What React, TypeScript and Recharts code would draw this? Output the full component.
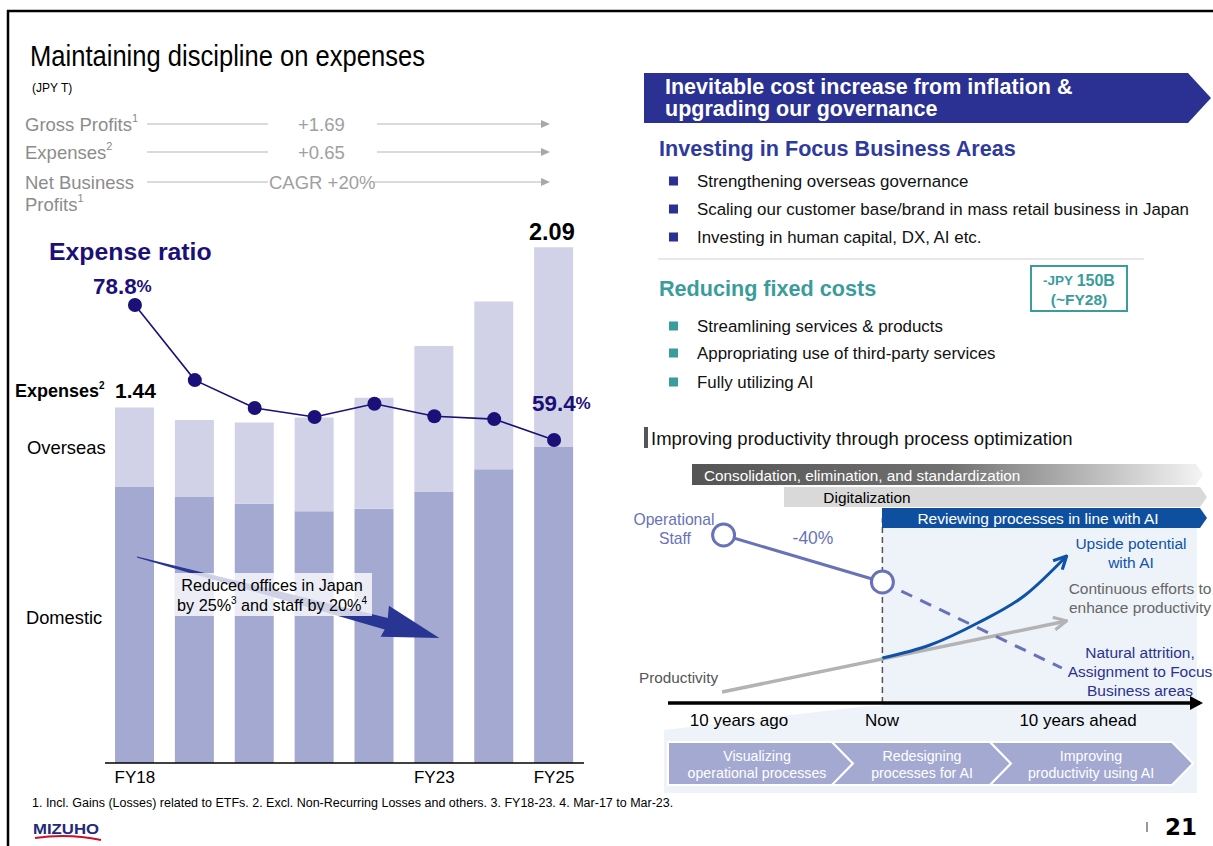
import React from 'react';
import { Bar, ComposedChart, Line, ReferenceLine, XAxis, YAxis } from 'recharts';

// left chart: expenses (JPY T) and expense ratio (%)
const years = ['FY18', 'FY19', 'FY20', 'FY21', 'FY22', 'FY23', 'FY24', 'FY25'];
const domestic = [1.12, 1.08, 1.05, 1.02, 1.03, 1.1, 1.19, 1.28];
const overseas = [0.32, 0.31, 0.33, 0.38, 0.45, 0.59, 0.68, 0.81];
const expenseRatio = [78.8, 68.0, 64.0, 62.7, 64.6, 62.8, 62.4, 59.4];
const shownYears = ['FY18', 'FY23', 'FY25'];

// right schematic: t = years from now, v = level above the time axis
const staffTimes = [-10, 0];
const staffLevels = [168, 121];
const attritionTimes = [0, 11.3];
const attritionLevels = [121, 35];
const productivityTimes = [-10.1, 11.6];
const productivityLevels = [11, 82];
const aiTimes = [0, 3, 6, 9, 11.6];
const aiLevels = [45, 58, 80, 108, 147];

const FONT = '"Liberation Sans", Arial, sans-serif';
const NAVY = '#1a1078';
const DOMESTIC = '#A4A9D2';
const OVERSEAS = '#D1D2E8';
const BANNER = '#2B3192';
const TEAL = '#3A9C9B';
const STAFF = '#6872B8';
const AI_BLUE = '#0F52A8';

const expenseData = years.map((y, i) => ({
  year: y,
  domestic: domestic[i],
  overseas: overseas[i],
  ratio: expenseRatio[i],
}));

const pairs = (ts: number[], vs: number[]) => ts.map((t, i) => ({ t, v: vs[i] }));

function ExpenseChart() {
  return (
    <ComposedChart
      width={600}
      height={800}
      data={expenseData}
      margin={{ top: 220, right: 16, bottom: 7, left: 105 }}
      barSize={39}
    >
      <XAxis
        dataKey="year"
        interval={0}
        height={30}
        tickLine={false}
        axisLine={{ stroke: '#000', strokeWidth: 1.5 }}
        tick={{ fill: '#000', fontSize: 17, fontFamily: FONT }}
        tickFormatter={(v) => (shownYears.includes(v) ? v : '')}
      />
      <YAxis hide domain={[0, 2.2]} />
      <YAxis hide yAxisId="ratio" domain={[13, 91]} />
      <Bar dataKey="domestic" stackId="a" fill={DOMESTIC} isAnimationActive={false} />
      <Bar dataKey="overseas" stackId="a" fill={OVERSEAS} isAnimationActive={false} />
      <Line
        yAxisId="ratio"
        type="linear"
        dataKey="ratio"
        stroke={NAVY}
        strokeWidth={1.6}
        dot={{ r: 7, fill: NAVY, stroke: NAVY, strokeWidth: 0 }}
        isAnimationActive={false}
      />
    </ComposedChart>
  );
}

function ProcessChart() {
  return (
    <ComposedChart width={593} height={240} margin={{ top: 23, right: 13, bottom: 17, left: 48 }}>
      <defs>
        <marker id="arrGray" viewBox="0 0 10 10" refX="9" refY="5" markerWidth="16" markerHeight="16" markerUnits="userSpaceOnUse" orient="auto">
          <path d="M1,1 L9,5 L1,9" fill="none" stroke="#b3b3b3" strokeWidth="2" />
        </marker>
        <marker id="arrBlue" viewBox="0 0 10 10" refX="9" refY="5" markerWidth="16" markerHeight="16" markerUnits="userSpaceOnUse" orient="auto">
          <path d="M1,1 L9,5 L1,9" fill="none" stroke={AI_BLUE} strokeWidth="2" />
        </marker>
      </defs>
      <XAxis hide type="number" dataKey="t" domain={[-13.5, 20]} allowDataOverflow />
      <YAxis hide type="number" domain={[0, 200]} allowDataOverflow />
      <ReferenceLine segment={[{ x: 0, y: 0 }, { x: 0, y: 185 }]} stroke="#555" strokeWidth={1.5} strokeDasharray="6 4" />
      <ReferenceLine y={0} stroke="#000" strokeWidth={3.5} />
      <Line
        data={pairs(productivityTimes, productivityLevels)}
        dataKey="v"
        type="linear"
        stroke="#b3b3b3"
        strokeWidth={3.5}
        dot={false}
        markerEnd="url(#arrGray)"
        isAnimationActive={false}
      />
      <Line
        data={pairs(attritionTimes, attritionLevels)}
        dataKey="v"
        type="linear"
        stroke={STAFF}
        strokeWidth={3}
        strokeDasharray="12 9"
        dot={false}
        isAnimationActive={false}
      />
      <Line
        data={pairs(aiTimes, aiLevels)}
        dataKey="v"
        type="monotone"
        stroke={AI_BLUE}
        strokeWidth={3}
        dot={false}
        markerEnd="url(#arrBlue)"
        isAnimationActive={false}
      />
      <Line
        data={pairs(staffTimes, staffLevels)}
        dataKey="v"
        type="linear"
        stroke={STAFF}
        strokeWidth={3}
        dot={{ r: 11, fill: '#fff', stroke: STAFF, strokeWidth: 3 }}
        isAnimationActive={false}
      />
    </ComposedChart>
  );
}

const sup = (s: string, size = 11, shift = '6px') => (
  <tspan fontSize={size} baselineShift={shift}>{s}</tspan>
);

const GRAY_SIZE = 18.5;

function GrayRow({ y, label, mid, midX, midEnd }: any) {
  return (
    <g>
      <text x={25} y={y} fontSize={GRAY_SIZE} fill="#8c8c8c" dominantBaseline="central">{label}</text>
      <line x1={147} x2={268} y1={y} y2={y} stroke="#b5b5b5" />
      <text x={midX} y={y} fontSize={GRAY_SIZE} fill="#a0a0a0" dominantBaseline="central">{mid}</text>
      <line x1={midEnd} x2={542} y1={y} y2={y} stroke="#b5b5b5" />
      <polygon points={`${541},${y - 4} ${550},${y} ${541},${y + 4}`} fill="#a8a8a8" />
    </g>
  );
}

const chevron = (x0: number, x1: number, tip: number, notch: number) => {
  const y0 = 742, y1 = 785, m = (y0 + y1) / 2;
  return `${x0},${y0} ${x1},${y0} ${tip},${m} ${x1},${y1} ${x0},${y1} ${x0 + notch},${m}`;
};

function Overlay() {
  const bullet = (y: number, text: string, color: string) => (
    <g key={text}>
      <rect x={669} y={y - 4.5} width={9} height={9} fill={color} />
      <text x={697} y={y} fontSize={16.9} fill="#111" dominantBaseline="central">{text}</text>
    </g>
  );
  return (
    <svg width={1213} height={846} style={{ position: 'absolute', left: 0, top: 0, fontFamily: FONT }}>
      <defs>
        <linearGradient id="consGrad" x1="0" x2="1" y1="0" y2="0">
          <stop offset="0" stopColor="#555" />
          <stop offset="0.5" stopColor="#707070" />
          <stop offset="1" stopColor="#f4f4f4" />
        </linearGradient>
      </defs>

      {/* title block */}
      <text x={30} y={55} fontSize={30} fill="#000" dominantBaseline="central" textLength={395} lengthAdjust="spacingAndGlyphs">
        Maintaining discipline on expenses
      </text>
      <text x={32} y={88} fontSize={12} fill="#000" dominantBaseline="central">(JPY T)</text>
      <GrayRow y={124} label={<>Gross Profits{sup('1')}</>} mid="+1.69" midX={298} midEnd={377} />
      <GrayRow y={152} label={<>Expenses{sup('2')}</>} mid="+0.65" midX={298} midEnd={377} />
      <GrayRow y={182} label="Net Business" mid="CAGR +20%" midX={269} midEnd={374} />
      <text x={25} y={204} fontSize={GRAY_SIZE} fill="#8c8c8c" dominantBaseline="central">Profits{sup('1')}</text>

      {/* chart annotations */}
      <text x={49} y={251} fontSize={24.8} fontWeight="bold" fill={NAVY} dominantBaseline="central">Expense ratio</text>
      <text x={93} y={286} fontSize={22.4} fontWeight="bold" fill={NAVY} dominantBaseline="central">
        78.8<tspan fontSize={17}>%</tspan>
      </text>
      <text x={529} y={232} fontSize={23.5} fontWeight="bold" fill="#000" dominantBaseline="central">2.09</text>
      <text x={15} y={391} fontSize={18} fontWeight="bold" fill="#000" dominantBaseline="central">
        Expenses{sup('2', 10, '6px')}
      </text>
      <text x={115} y={390} fontSize={21} fontWeight="bold" fill="#000" dominantBaseline="central">1.44</text>
      <text x={532} y={403} fontSize={22.4} fontWeight="bold" fill={NAVY} dominantBaseline="central">
        59.4<tspan fontSize={17}>%</tspan>
      </text>
      <text x={27} y={447} fontSize={18.4} fill="#000" dominantBaseline="central">Overseas</text>
      <text x={26} y={617} fontSize={18.3} fill="#000" dominantBaseline="central">Domestic</text>

      <g transform="translate(137,557) rotate(15)">
        <polygon points="0,-0.6 258,-6 256,-18 313,0 256,14 258,6 0,0.6" fill="#283593" />
      </g>
      <rect x={175} y={573} width={197} height={43} fill="#fff" fillOpacity={0.78} />
      <text x={272} y={585} fontSize={16.2} fill="#000" textAnchor="middle" dominantBaseline="central">Reduced offices in Japan</text>
      <text x={272} y={605} fontSize={16.2} fill="#000" textAnchor="middle" dominantBaseline="central">
        by 25%{sup('3', 10, '5px')} and staff by 20%{sup('4', 10, '5px')}
      </text>

      <text x={32} y={803} fontSize={12.5} fill="#000" dominantBaseline="central">
        1. Incl. Gains (Losses) related to ETFs. 2. Excl. Non-Recurring Losses and others. 3. FY18-23. 4. Mar-17 to Mar-23.
      </text>
      <text x={33} y={828} fontSize={15} fontWeight="bold" fill="#1F2A7C" dominantBaseline="central" textLength={66} lengthAdjust="spacingAndGlyphs">MIZUHO</text>
      <path d="M35,838 Q68,833 101,840" stroke="#C8102E" strokeWidth={2} fill="none" />
      <line x1={1147} x2={1147} y1={822} y2={832} stroke="#333" />
      <text x={1165} y={827} fontSize={23} fontWeight="bold" fill="#000" fontFamily="DejaVu Sans" dominantBaseline="central">21</text>

      {/* right column */}
      <polygon points="644,73 1188,73 1211,98 1188,123 644,123" fill={BANNER} />
      <text x={665} y={87} fontSize={21.5} fontWeight="bold" fill="#fff" dominantBaseline="central">Inevitable cost increase from inflation &amp;</text>
      <text x={665} y={109} fontSize={21.5} fontWeight="bold" fill="#fff" dominantBaseline="central">upgrading our governance</text>

      <text x={659} y={148} fontSize={21.6} fontWeight="bold" fill="#2E3A9C" dominantBaseline="central">Investing in Focus Business Areas</text>
      {bullet(181, 'Strengthening overseas governance', BANNER)}
      {bullet(209, 'Scaling our customer base/brand in mass retail business in Japan', BANNER)}
      {bullet(237, 'Investing in human capital, DX, AI etc.', BANNER)}
      <line x1={658} x2={1144} y1={259} y2={259} stroke="#d0d0d0" />

      <text x={659} y={288} fontSize={21.6} fontWeight="bold" fill={TEAL} dominantBaseline="central">Reducing fixed costs</text>
      <rect x={1031} y={266} width={96} height={45} fill="none" stroke={TEAL} strokeWidth={2} />
      <text x={1079} y={280} fontWeight="bold" fill={TEAL} textAnchor="middle" dominantBaseline="central">
        <tspan fontSize={13.5}>-JPY </tspan><tspan fontSize={16}>150B</tspan>
      </text>
      <text x={1079} y={299} fontSize={15.5} fontWeight="bold" fill={TEAL} textAnchor="middle" dominantBaseline="central">(~FY28)</text>
      {bullet(326, 'Streamlining services & products', TEAL)}
      {bullet(353, 'Appropriating use of third-party services', TEAL)}
      {bullet(382, 'Fully utilizing AI', TEAL)}

      <rect x={644} y={427} width={4} height={21} fill="#555" />
      <text x={651} y={438} fontSize={18.5} fill="#111" dominantBaseline="central">Improving productivity through process optimization</text>

      {/* phase bars */}
      <polygon points="692,464 1196,464 1203,474.5 1196,485 692,485" fill="url(#consGrad)" />
      <text x={704} y={475} fontSize={15.3} fill="#fff" dominantBaseline="central">Consolidation, elimination, and standardization</text>
      <polygon points="784,487 1200,487 1207,497 1200,507 784,507" fill="#D9D9D9" />
      <text x={867} y={497} fontSize={15.4} fill="#000" textAnchor="middle" dominantBaseline="central">Digitalization</text>
      <polygon points="882,508 1200,508 1207,518 1200,528 882,528" fill="#0F4FA0" />
      <text x={1038} y={518} fontSize={15.5} fill="#fff" textAnchor="middle" dominantBaseline="central">Reviewing processes in line with AI</text>

      {/* schematic labels */}
      <text x={674} y={519} fontSize={15.7} fill={STAFF} textAnchor="middle" dominantBaseline="central">Operational</text>
      <text x={675} y={538} fontSize={15.7} fill={STAFF} textAnchor="middle" dominantBaseline="central">Staff</text>
      <text x={813} y={538} fontSize={17.5} fill={STAFF} textAnchor="middle" dominantBaseline="central">-40%</text>
      <text x={1131} y={543} fontSize={15.5} fill={AI_BLUE} textAnchor="middle" dominantBaseline="central">Upside potential</text>
      <text x={1131} y={562} fontSize={15.5} fill={AI_BLUE} textAnchor="middle" dominantBaseline="central">with AI</text>
      <text x={1140} y={588} fontSize={15.5} fill="#666" textAnchor="middle" dominantBaseline="central">Continuous efforts to</text>
      <text x={1140} y={607} fontSize={15.5} fill="#666" textAnchor="middle" dominantBaseline="central">enhance productivity</text>
      <text x={1140} y={652} fontSize={15.5} fill={BANNER} textAnchor="middle" dominantBaseline="central">Natural attrition,</text>
      <text x={1140} y={671} fontSize={15.5} fill={BANNER} textAnchor="middle" dominantBaseline="central">Assignment to Focus</text>
      <text x={1140} y={690} fontSize={15.5} fill={BANNER} textAnchor="middle" dominantBaseline="central">Business areas</text>
      <text x={639} y={677} fontSize={15.3} fill="#555" dominantBaseline="central">Productivity</text>
      <polygon points="1190,696 1203,703 1190,710" fill="#000" />
      <text x={739} y={720} fontSize={17} fill="#000" textAnchor="middle" dominantBaseline="central">10 years ago</text>
      <text x={882} y={720} fontSize={17} fill="#000" textAnchor="middle" dominantBaseline="central">Now</text>
      <text x={1078} y={720} fontSize={17} fill="#000" textAnchor="middle" dominantBaseline="central">10 years ahead</text>

      {/* steps */}
      <polygon points={chevron(668, 832, 853, 0)} fill={DOMESTIC} stroke="#fff" strokeWidth={2} />
      <polygon points={chevron(832, 990, 1011, 21)} fill={DOMESTIC} stroke="#fff" strokeWidth={2} />
      <polygon points={chevron(990, 1172, 1193, 21)} fill={DOMESTIC} stroke="#fff" strokeWidth={2} />
      {[
        [757, 'Visualizing', 'operational processes'],
        [922, 'Redesigning', 'processes for AI'],
        [1091, 'Improving', 'productivity using AI'],
      ].map(([x, a, b]) => (
        <g key={a as string}>
          <text x={x as number} y={756} fontSize={14.2} fill="#fff" textAnchor="middle" dominantBaseline="central">{a}</text>
          <text x={x as number} y={773} fontSize={14.2} fill="#fff" textAnchor="middle" dominantBaseline="central">{b}</text>
        </g>
      ))}
    </svg>
  );
}

function Background() {
  return (
    <svg width={1213} height={846} style={{ position: 'absolute', left: 0, top: 0 }}>
      <line x1={7} x2={1213} y1={11} y2={11} stroke="#000" strokeWidth={2.5} />
      <line x1={8} x2={8} y1={10} y2={846} stroke="#000" strokeWidth={2.5} />
      <polygon points="882,528 1197,528 1197,793 664,793 664,730 867,706 882,706" fill="#EEF3F9" />
    </svg>
  );
}

export default function App() {
  return (
    <div style={{ position: 'absolute', left: 0, top: 0, width: 1213, height: 846, background: '#fff', overflow: 'hidden', fontFamily: FONT }}>
      <Background />
      <div style={{ position: 'absolute', left: 0, top: 0 }}>
        <ExpenseChart />
      </div>
      <div style={{ position: 'absolute', left: 620, top: 480 }}>
        <ProcessChart />
      </div>
      <Overlay />
    </div>
  );
}
